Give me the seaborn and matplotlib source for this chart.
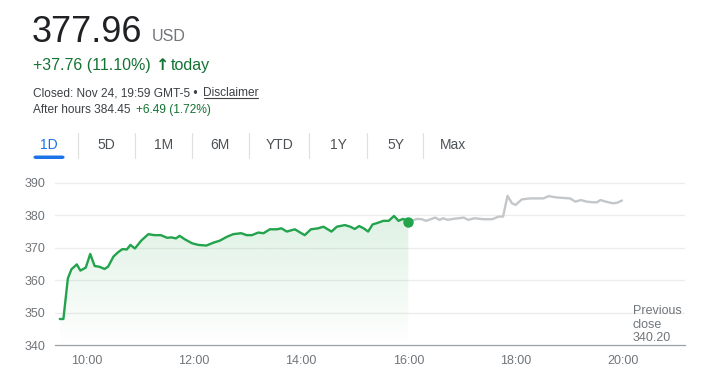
import numpy as np
import pandas as pd
import seaborn as sns
import matplotlib.pyplot as plt
from matplotlib.patches import FancyBboxPatch
from matplotlib.lines import Line2D

# regular session
day_times = ["09:30", "09:34", "09:39", "09:43", "09:49", "09:53", "09:59", "10:04", "10:09",
             "10:14", "10:20", "10:24", "10:30", "10:35", "10:40", "10:45", "10:49", "10:54",
             "11:01", "11:09", "11:16", "11:23", "11:30", "11:35", "11:40", "11:44", "11:50",
             "11:58", "12:05", "12:14", "12:22", "12:29", "12:37", "12:44", "12:53", "12:59",
             "13:05", "13:12", "13:18", "13:25", "13:33", "13:38", "13:44", "13:53", "13:59",
             "14:04", "14:11", "14:19", "14:25", "14:34", "14:40", "14:49", "14:55", "15:00",
             "15:05", "15:10", "15:15", "15:20", "15:26", "15:32", "15:38", "15:44", "15:49",
             "15:54", "16:00"]
day_prices = [348.0, 348.0, 360.5, 363.3, 364.8, 362.9, 363.8, 368.0, 364.3,
              364.1, 363.4, 364.1, 367.2, 368.5, 369.5, 369.4, 370.8, 369.7,
              372.1, 374.1, 373.8, 373.8, 373.0, 373.1, 372.8, 373.6, 372.5,
              371.3, 370.8, 370.6, 371.5, 372.1, 373.3, 374.1, 374.4, 373.8,
              373.8, 374.6, 374.4, 375.6, 375.6, 375.9, 374.9, 375.6, 374.6,
              373.8, 375.6, 375.9, 376.4, 374.9, 376.4, 376.9, 376.4, 375.7,
              376.6, 375.9, 374.9, 377.1, 377.6, 378.2, 378.2, 379.7, 378.2,
              378.8, 377.96]

# after hours
ah_times = ["16:00", "16:10", "16:15", "16:20", "16:30", "16:35", "16:39", "16:44", "16:50",
            "17:02", "17:07", "17:14", "17:24", "17:34", "17:41", "17:46", "17:51", "17:56",
            "18:00", "18:07", "18:16", "18:31", "18:37", "18:46", "19:01", "19:07", "19:13",
            "19:20", "19:27", "19:31", "19:35", "19:41", "19:49", "19:54", "19:59"]
ah_prices = [377.96, 378.8, 378.7, 378.2, 379.2, 378.5, 379.0, 378.5, 378.8,
             379.2, 378.5, 379.0, 378.7, 378.7, 379.5, 379.5, 385.9, 383.6,
             383.1, 384.8, 385.1, 385.1, 385.8, 385.4, 385.1, 384.1, 384.6,
             384.1, 383.9, 383.9, 384.6, 384.1, 383.6, 383.8, 384.45]

prev_close = 340.20
x_ticks = [10, 12, 14, 16, 18, 20]
x_labels = ["10:00", "12:00", "14:00", "16:00", "18:00", "20:00"]
y_ticks = [340, 350, 360, 370, 380, 390]
tabs = ["1D", "5D", "1M", "6M", "YTD", "1Y", "5Y", "Max"]


def to_hours(times):
    return pd.to_timedelta([t + ":00" for t in times]).total_seconds() / 3600


day = pd.DataFrame({"t": to_hours(day_times), "price": day_prices})
ah = pd.DataFrame({"t": to_hours(ah_times), "price": ah_prices})

GREEN = "#22a34c"
TXT_GREEN = "#137333"
GRAY = "#70757a"
DARK = "#3c4043"

sns.set_style("white")
plt.rcParams["font.family"] = ["Liberation Sans", "DejaVu Sans"]

W, H = 712, 372
fig = plt.figure(figsize=(W / 100, H / 100), dpi=100)


def fx(x):
    return x / W


def fy(y):
    return 1 - y / H


ax = fig.add_axes([fx(55), fy(345), fx(685) - fx(55), fy(179.25) - fy(345)])
ax.set_xlim(9.41, 21.16)
ax.set_ylim(340, 391)

# gridlines
for v in y_ticks[1:]:
    ax.axhline(v, color="#ececec", lw=0.9, zorder=0)

# gradient fill under the session line
fill = ax.fill_between(day["t"], day["price"], prev_close, color="none", lw=0)
top = 382
grad = np.zeros((256, 1, 4))
grad[..., :3] = np.array([0x34, 0xa8, 0x53]) / 255
grad[:, 0, 3] = np.linspace(0, 0.17, 256)
img = ax.imshow(grad, origin="lower", aspect="auto",
                extent=[day["t"].min(), day["t"].max(), 340, top], zorder=1)
img.set_clip_path(fill.get_paths()[0], transform=ax.transData)

sns.lineplot(data=ah, x="t", y="price", ax=ax, color="#c4c7ca", lw=1.7, zorder=2)
sns.lineplot(data=day, x="t", y="price", ax=ax, color=GREEN, lw=1.7, zorder=3)
ax.plot(day["t"].iloc[-1], day["price"].iloc[-1], "o", color=GREEN, ms=6.5, zorder=4)

for s in ["top", "right", "left"]:
    ax.spines[s].set_visible(False)
ax.spines["bottom"].set_color("#9aa0a6")
ax.spines["bottom"].set_linewidth(0.9)

ax.set_xticks(x_ticks)
ax.set_xticklabels(x_labels)
ax.set_xticks(np.arange(9 + 25 / 60, 20 + 11 / 60, 5 / 60), minor=True)
ax.tick_params(axis="x", which="major", direction="out", length=5, width=0.8,
               color="#9aa0a6", labelsize=9, labelcolor=GRAY, pad=2)
ax.tick_params(axis="x", which="minor", direction="inout", length=3, width=0.6,
               color="#9aa0a6")
ax.set_yticks(y_ticks)
ax.set_xlabel("")
ax.set_ylabel("")
for lab in ax.get_yticklabels():
    lab.set_horizontalalignment("left")
ax.tick_params(axis="y", length=0, labelsize=9, labelcolor=GRAY, pad=22)

ax.text(20.19, prev_close, "Previous\nclose\n%.2f" % prev_close,
        fontsize=9, color=GRAY, va="bottom", ha="left", linespacing=1.2)

# header
fig.text(fx(32), fy(42), "377.96", fontsize=26, color="#202124", va="baseline")
fig.text(fx(152), fy(41), "USD", fontsize=11.5, color=GRAY, va="baseline")
fig.text(fx(33), fy(70), "+37.76 (11.10%)", fontsize=11.5, color=TXT_GREEN, va="baseline")
fig.text(fx(156), fy(70), "\u2191", fontsize=11.5, color=TXT_GREEN, va="baseline",
         fontweight="bold", family="DejaVu Sans")
fig.text(fx(171), fy(70), "today", fontsize=11.5, color=TXT_GREEN, va="baseline")
fig.text(fx(33), fy(96), "Closed: Nov 24, 19:59 GMT-5 \u2022", fontsize=8.6, color=DARK,
         va="baseline")
fig.text(fx(203.5), fy(96), "Disclaimer", fontsize=8.6, color=DARK, va="baseline")
fig.add_artist(Line2D([fx(203.5), fx(258)], [fy(98), fy(98)], color=DARK, lw=0.8))
fig.text(fx(33), fy(113), "After hours 384.45", fontsize=8.6, color=DARK, va="baseline")
fig.text(fx(136), fy(113), "+6.49 (1.72%)", fontsize=8.6, color=TXT_GREEN, va="baseline")

# range tabs
tab_x = [49.3, 106, 163.3, 220, 279.3, 338.3, 396, 453.3]
sep_x = [78.3, 135, 191.7, 249.3, 309.3, 366.7, 423.3]
for name, x in zip(tabs, tab_x):
    fig.text(fx(x), fy(145), name, fontsize=10, ha="center", va="center",
             color="#1a73e8" if name == "1D" else "#4d5156")
for x in sep_x:
    fig.add_artist(Line2D([fx(x), fx(x)], [fy(133), fy(158)], color="#e0e0e0", lw=0.9))
fig.add_artist(FancyBboxPatch((fx(33.5), fy(159)), fx(64.5) - fx(33.5), fy(155.5) - fy(159),
                              boxstyle="round,pad=0,rounding_size=0.004",
                              transform=fig.transFigure, color="#1a73e8", lw=0))

fig.savefig("out.png", dpi=100)
